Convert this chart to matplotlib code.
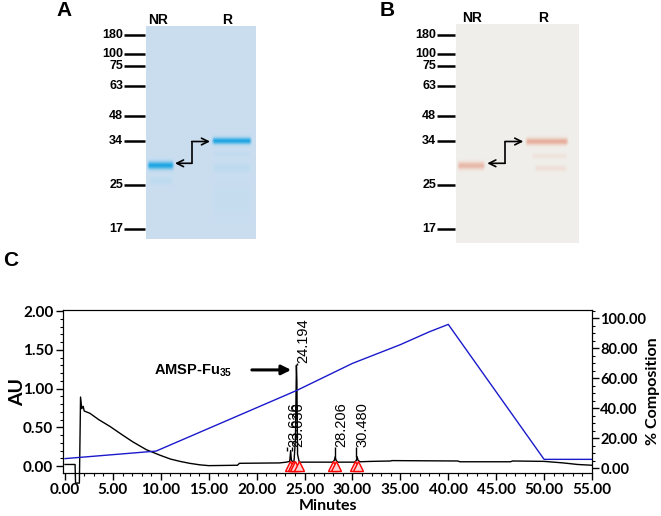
import matplotlib as mpl
import matplotlib.pyplot as plt
import numpy as np
from matplotlib.ticker import MultipleLocator, FormatStrFormatter

mpl.rcParams['font.family'] = ['Liberation Sans', 'DejaVu Sans']
mpl.rcParams['mathtext.fontset'] = 'custom'
mpl.rcParams['mathtext.rm'] = 'Liberation Sans'
mpl.rcParams['mathtext.bf'] = 'Liberation Sans:bold'

W, H = 661, 516

# ---------------- gel data (positions in image pixels) ----------------
ladder_kda = ['180', '100', '75', '63', '48', '34', '25', '17']
ladder_y = [35, 54, 66, 86, 116, 141, 184.5, 229.3]
lane_names = ['NR', 'R']

# band: x0, x1, y, thickness, intensity
bands_a = [(148, 173, 166, 2.6, 1.0), (150, 172, 181.5, 2.5, 0.07),
           (213, 251, 141.5, 2.2, 1.0), (214, 250, 155, 2.0, 0.04),
           (214, 250, 168.5, 3.0, 0.07), (214, 250, 200, 12, 0.025)]
bands_b = [(458, 484, 165.7, 2.6, 0.55), (526, 567, 141.5, 2.4, 0.65),
           (532, 566, 156, 1.8, 0.12), (535, 566, 168.3, 2.2, 0.15)]

gels = [
    dict(tag='A', tag_x=64, box=(146, 256, 26, 239.3), bands=bands_a,
         bg=(0.79, 0.87, 0.94), fg=(0.12, 0.65, 0.89),
         ladder_x=(123.5, 145), lane_x=[158.3, 226.7], lane_y=20.5,
         elbow=[(210, 141.5), (191.7, 141.5), (191.7, 163.3), (175, 163.3)]),
    dict(tag='B', tag_x=387, box=(456, 578.3, 24, 243), bands=bands_b,
         bg=(0.945, 0.937, 0.92), fg=(0.88, 0.55, 0.45),
         ladder_x=(436.5, 455), lane_x=[471.7, 543.3], lane_y=18.5,
         elbow=[(523.3, 141.5), (505, 141.5), (505, 163.3), (487.3, 163.3)]),
]

# ---------------- chromatogram data ----------------
trace_t = [0, 1.05, 1.1, 1.5, 1.58, 1.62, 1.75, 1.9, 2.0, 2.6, 3.5, 4.7, 6.0, 7.1,
           8.5, 9.9, 11.0, 12.0, 13.0, 14.1, 15.0, 18.0, 18.2, 22.4, 23.1,
           23.45, 23.55, 23.62, 23.7, 23.9, 24.05, 24.15, 24.2, 24.27, 24.45,
           25.0, 27.9, 28.1, 28.2, 28.3, 28.5, 30.2, 30.4, 30.48, 30.6, 30.8,
           32.0, 34.0, 34.1, 41.0, 41.2, 46.5, 46.7, 50.0, 52.0, 53.5, 55.0]
trace_au = [0.02, 0.02, -0.22, -0.22, 0.5, 0.89, 0.74, 0.77, 0.71, 0.68, 0.6, 0.51,
            0.4, 0.31, 0.21, 0.14, 0.09, 0.06, 0.035, 0.015, 0.005, 0.01, 0.035,
            0.04, 0.05, 0.06, 0.2, 0.08, 0.06, 0.06, 0.35, 1.3, 1.1, 0.15, 0.05,
            0.05, 0.05, 0.07, 0.12, 0.07, 0.05, 0.05, 0.07, 0.12, 0.07, 0.055,
            0.06, 0.065, 0.07, 0.065, 0.055, 0.055, 0.065, 0.06, 0.04, 0.02, 0.01]

comp_t = [0, 9.5, 24.2, 30, 35, 38, 40, 50, 55]
comp_pct = [6.5, 11.5, 52, 70, 82.5, 91, 96, 6, 6]

peak_rt = ['23.626', '23.636', '24.194', '28.206', '30.480']
peak_x = [23.2, 23.7, 24.17, 28.18, 30.4]
peak_top = [0.2, 0.2, 1.3, 0.12, 0.12]
label_base = [0.245, 0.245, 1.33, 0.25, 0.25]

tri_t = [23.45, 23.75, 24.05, 24.4, 28.0, 28.25, 30.3, 30.6]

fig = plt.figure(figsize=(W / 100, H / 100), dpi=100)


def fig_axes(x0, x1, y0, y1):
    return fig.add_axes([x0 / W, 1 - y1 / H, (x1 - x0) / W, (y1 - y0) / H])


# ---------------- gels ----------------
for g in gels:
    gx0, gx1, gy0, gy1 = g['box']
    ax = fig_axes(gx0, gx1, gy0, gy1)
    nx, ny = int(round(gx1 - gx0)) * 2, int(round(gy1 - gy0)) * 2
    xx = np.linspace(gx0, gx1, nx)[None, :]
    yy = np.linspace(gy0, gy1, ny)[:, None]
    alpha = np.zeros((ny, nx))
    for x0, x1, yc, th, k in g['bands']:
        edge = np.clip(np.minimum(xx - x0, x1 - xx) / 3 + 0.5, 0, 1)
        alpha = np.maximum(alpha, k * edge * np.exp(-0.5 * ((yy - yc) / th) ** 2))
    bg = np.array(g['bg'])
    fg = np.array(g['fg'])
    img = bg * (1 - alpha[..., None]) + fg * alpha[..., None]
    ax.imshow(img, extent=(gx0, gx1, gy1, gy0), aspect='auto', interpolation='bilinear')
    ax.set_xlim(gx0, gx1)
    ax.set_ylim(gy1, gy0)
    ax.axis('off')

    lx0, lx1 = g['ladder_x']
    for lab, y in zip(ladder_kda, ladder_y):
        ax.plot([lx0, lx1], [y, y], color='black', lw=1.8, clip_on=False,
                solid_capstyle='butt')
        ax.text(lx0 - 0.5, y, lab, ha='right', va='center', fontsize=9,
                fontweight='bold')
    for name, x in zip(lane_names, g['lane_x']):
        ax.text(x, g['lane_y'], name, ha='center', va='center', fontsize=10,
                fontweight='bold')
    ex, ey = zip(*g['elbow'])
    ax.plot(ex[1:3], ey[1:3], color='black', lw=1.2, clip_on=False)
    ax.annotate('', xy=g['elbow'][0], xytext=g['elbow'][1],
                arrowprops=dict(arrowstyle='->', lw=1.2, color='black',
                                shrinkA=0, shrinkB=0, mutation_scale=12))
    ax.annotate('', xy=g['elbow'][3], xytext=g['elbow'][2],
                arrowprops=dict(arrowstyle='->', lw=1.2, color='black',
                                shrinkA=0, shrinkB=0, mutation_scale=12))
    fig.text(g['tag_x'] / W, 1 - 11 / H, g['tag'], fontsize=15,
             fontweight='bold', ha='center', va='center')

fig.text(11 / W, 1 - 261 / H, 'C', fontsize=15, fontweight='bold',
         ha='center', va='center')

# ---------------- chromatogram ----------------
ax = fig_axes(63, 592, 310, 473)
ax.plot(trace_t, trace_au, color='black', lw=1.0, clip_on=False)
ax.set_xlim(-0.21, 55)
ax.set_ylim(-0.09, 2.013)

ax.vlines(peak_x, peak_top, label_base, color='black', lw=1.0)
for lab, x, yb in zip(peak_rt, peak_x, label_base):
    ax.text(x - 0.05, yb, lab, rotation=90, ha='left', va='bottom', fontsize=10.5)

ax.plot(tri_t, [0.0] * len(tri_t), linestyle='none', marker='^', markersize=7,
        mec='red', mfc=(1, 0.82, 0.82), mew=1.0, clip_on=False)

ax.annotate('', xy=(23.6, 1.24), xytext=(19.5, 1.24),
            arrowprops=dict(arrowstyle='-|>', lw=2.2, color='black',
                            mutation_scale=14, shrinkA=0, shrinkB=0))
ax.text(17.5, 1.23, r'AMSP-Fu$_{\mathbf{35}}$', ha='right', va='center',
        fontsize=10.5, fontweight='bold')

ax.xaxis.set_major_locator(MultipleLocator(5))
ax.xaxis.set_minor_locator(MultipleLocator(1))
ax.yaxis.set_major_locator(MultipleLocator(0.5))
ax.yaxis.set_minor_locator(MultipleLocator(0.1))
ax.xaxis.set_major_formatter(FormatStrFormatter('%.2f'))
ax.yaxis.set_major_formatter(FormatStrFormatter('%.2f'))
ax.tick_params(which='major', length=5, width=1, labelsize=11, pad=2)
ax.tick_params(which='minor', length=2.5, width=0.8)
for lab in ax.get_xticklabels() + ax.get_yticklabels():
    lab.set_fontweight('bold')
    lab.set_family('Lato')
ax.set_xlabel('Minutes', fontsize=11.5, fontweight='bold', family='Lato', labelpad=2)
ax.set_ylabel('AU', fontsize=14, fontweight='bold', family='Lato', labelpad=-2)

ax2 = ax.twinx()
ax2.plot(comp_t, comp_pct, color='#1a1acc', lw=1.0)
ax2.set_ylim(-3.1, 105.6)
ax2.yaxis.set_major_locator(MultipleLocator(20))
ax2.yaxis.set_minor_locator(MultipleLocator(5))
ax2.yaxis.set_major_formatter(FormatStrFormatter('%.2f'))
ax2.tick_params(which='major', length=5, width=1, labelsize=10.5, pad=1)
ax2.tick_params(which='minor', length=2.5, width=0.8)
for lab in ax2.get_yticklabels():
    lab.set_fontweight('bold')
    lab.set_family('Lato')
ax2.set_ylabel('% Composition', fontsize=11.5, fontweight='bold', family='Lato',
               labelpad=0)

fig.savefig('out.png', dpi=100)
